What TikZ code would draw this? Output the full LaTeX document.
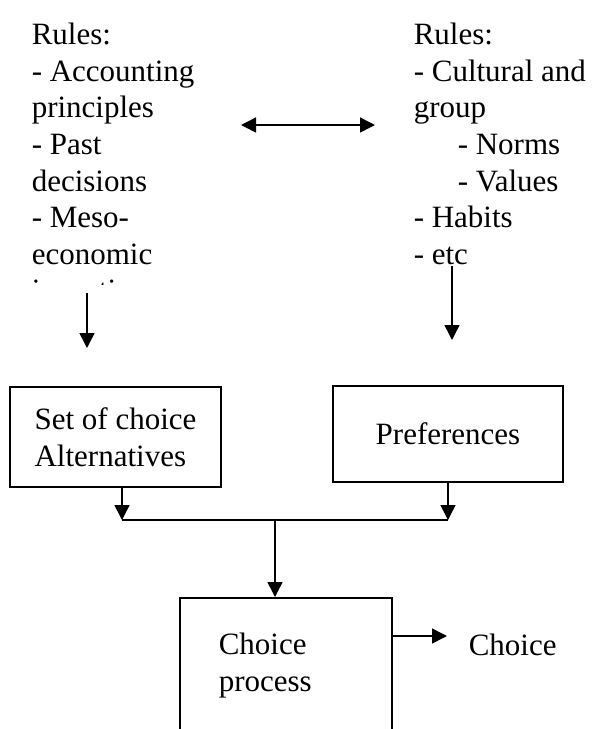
\documentclass[tikz,border=0pt]{standalone}
\usepackage{fontspec}
\setmainfont{Liberation Serif}
\usetikzlibrary{arrows.meta}
\begin{document}
\begin{tikzpicture}[x=1pt,y=-1pt,
  line width=1.5pt,
  arr/.style={-{Triangle[length=15pt,width=15pt]}},
  darr/.style={{Triangle[length=15pt,width=15pt]}-{Triangle[length=15pt,width=15pt]}},
  rulestext/.style={anchor=north west,inner sep=0pt,align=left,
    font=\fontsize{31}{36.6}\selectfont},
  boxtext/.style={draw,inner sep=0pt,align=left,
    font=\fontsize{31}{37}\selectfont},
  plaintext/.style={inner sep=0pt,align=left,anchor=base west,
    font=\fontsize{31}{37}\selectfont}]
\clip (0,0) rectangle (593,729);

% rules acting on the set of alternatives (last line cut by its frame)
\begin{scope}
  \clip (0,0) rectangle (300,284.5);
  \node[rulestext] (rulesA) at (31,22.5)
    {Rules:\\- Accounting\\principles\\- Past\\decisions\\- Meso-\\economic\\incentives};
\end{scope}

% rules acting on preferences
\node[rulestext] (rulesB) at (413,22.5)
  {Rules:\\- Cultural and\\group\\\hspace*{44pt}- Norms\\\hspace*{44pt}- Values\\- Habits\\- etc};

\coordinate (dl) at (241,125);
\coordinate (dr) at (375,125);
\draw[darr] (dl) -- (dr);

\coordinate (a1) at (87,293);
\coordinate (a2) at (87,348);
\draw[arr] (a1) -- (a2);
\coordinate (b1) at (452,266);
\coordinate (b2) at (452,340);
\draw[arr] (b1) -- (b2);

% the two inputs of the choice process
\node[boxtext,minimum width=211pt,minimum height=100pt] (alt) at (115.5,437)
  {Set of choice\\Alternatives};
\node[boxtext,minimum width=230pt,minimum height=96pt] (pref) at (448,434)
  {Preferences};

\coordinate (j1) at (122,520);
\coordinate (j2) at (448,520);
\coordinate (jm) at (275,520);
\draw[arr] (alt.south -| j1) -- (j1);
\draw[arr] (pref.south -| j2) -- (j2);
\draw (j1) -- (j2);

% choice process, running past the lower edge
\node[draw,inner sep=0pt,minimum width=212pt,minimum height=200pt,anchor=north west]
  (proc) at (179,597) {};
\node[plaintext] (proctext) at (218,691) {Choice\\process};
\draw[arr] (jm) -- (proc.north -| jm);

\coordinate (c1) at (391,636);
\coordinate (c2) at (447,636);
\draw[arr] (c1) -- (c2);
\node[plaintext] (choice) at (468,655) {Choice};
\end{tikzpicture}
\end{document}
